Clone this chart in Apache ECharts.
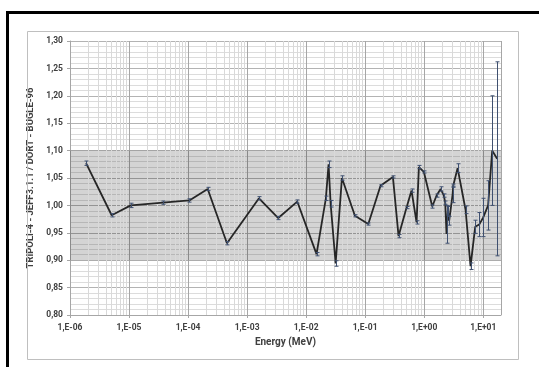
<!DOCTYPE html>
<html><head><meta charset="utf-8">
<script src="https://cdn.jsdelivr.net/npm/echarts@6/dist/echarts.min.js"></script>
<style>html,body{margin:0;padding:0;background:#fff}#c{width:539px;height:367px}</style>
</head><body><div id="c"></div>
<script>
// Energy (MeV) of each group point
const energy = [1.87e-6, 5.08e-6, 1.07e-5, 3.76e-5, 1.05e-4, 2.15e-4, 4.56e-4, 1.59e-3, 3.37e-3, 7.07e-3,
  1.50e-2, 2.16e-2, 2.40e-2, 2.60e-2, 3.16e-2, 4.04e-2, 6.7e-2, 1.13e-1, 1.82e-1, 2.95e-1,
  3.68e-1, 5.03e-1, 6.1e-1, 7.43e-1, 8.13e-1, 9.88e-1, 1.37, 1.62, 1.90, 2.15,
  2.27, 2.39, 2.52, 2.65, 3.03, 3.10, 3.68, 5.02, 6.1, 7.31,
  8.54, 10.0, 12.1, 14.2, 17.2];
// TRIPOLI-4 / DORT ratio
const ratio = [1.077, 0.982, 1.000, 1.005, 1.009, 1.030, 0.931, 1.013, 0.977, 1.007,
  0.911, 1.013, 1.075, 1.003, 0.894, 1.050, 0.981, 0.966, 1.036, 1.052,
  0.944, 0.996, 1.027, 0.969, 1.070, 1.061, 0.998, 1.018, 1.030, 1.018,
  1.005, 0.948, 0.990, 0.972, 1.020, 1.036, 1.068, 0.992, 0.889, 0.961,
  0.965, 0.978, 1.000, 1.100, 1.085];
// error bar half-widths (below / above)
const errMinus = [0.004, 0.003, 0.004, 0.003, 0.003, 0.003, 0.003, 0.003, 0.003, 0.003,
  0.003, 0.004, 0.006, 0.006, 0.005, 0.004, 0.002, 0.002, 0.002, 0.002,
  0.003, 0.002, 0.003, 0.003, 0.003, 0.002, 0.003, 0.003, 0.004, 0.003,
  0.003, 0.017, 0.008, 0.008, 0.015, 0.003, 0.008, 0.007, 0.006, 0.012,
  0.022, 0.035, 0.045, 0.100, 0.177];
const errPlus = [0.004, 0.003, 0.004, 0.003, 0.003, 0.003, 0.003, 0.003, 0.003, 0.003,
  0.003, 0.004, 0.006, 0.006, 0.005, 0.004, 0.002, 0.002, 0.002, 0.002,
  0.003, 0.002, 0.003, 0.003, 0.003, 0.002, 0.003, 0.003, 0.004, 0.003,
  0.003, 0.052, 0.008, 0.008, 0.015, 0.003, 0.008, 0.007, 0.006, 0.012,
  0.022, 0.035, 0.045, 0.100, 0.177];
const bandLow = 0.90, bandHigh = 1.10;
const xMin = 1e-6, xMax = 20;
const yMin = 0.80, yMax = 1.30, yStep = 0.05;

// minor vertical grid values (2..9 x 10^k)
const minorX = [];
for (let k = -6; k <= 1; k++) for (let m = 2; m <= 9; m++) { const v = m * Math.pow(10, k); if (v < xMax) minorX.push(v); }

const FONT = 'Roboto, "Liberation Sans", sans-serif';
const chart = echarts.init(document.getElementById('c'), null, {renderer: 'canvas'});
chart.setOption({
  animation: false,
  backgroundColor: '#fff',
  graphic: [
    {type: 'rect', z: 100, shape: {x: 7.5, y: 12.5, width: 620, height: 420}, style: {fill: 'none', stroke: '#000', lineWidth: 3}},
    {type: 'rect', z: 100, shape: {x: 27.5, y: 31.5, width: 491, height: 328}, style: {fill: 'none', stroke: '#bfbfbf', lineWidth: 1}}
  ],
  grid: {left: 70, right: 38, top: 41, bottom: 52, containLabel: false},
  xAxis: {
    type: 'log', logBase: 10, min: xMin, max: xMax,
    name: 'Energy (MeV)', nameLocation: 'middle', nameGap: 22,
    nameTextStyle: {fontFamily: FONT, fontWeight: 'bold', fontSize: 10, color: '#404040'},
    axisLine: {show: true, lineStyle: {color: '#a6a6a6', width: 1}},
    axisTick: {show: true, length: 3, lineStyle: {color: '#a6a6a6'}},
    axisLabel: {
      fontFamily: FONT, fontWeight: 'bold', fontSize: 8.5, color: '#404040', margin: 8, showMaxLabel: false,
      formatter: function (v) {
        const e = Math.round(Math.log10(v));
        const s = e < 0 ? '-' : '+';
        const a = Math.abs(e);
        return '1,E' + s + (a < 10 ? '0' : '') + a;
      }
    },
    splitLine: {show: true, lineStyle: {color: '#a6a6a6', width: 1}},
    minorTick: {show: false}, minorSplitLine: {show: false}
  },
  yAxis: {
    type: 'value', min: yMin, max: yMax, interval: yStep,
    name: 'TRIPOLI-4 - JEFF3.1.1 / DORT - BUGLE-96', nameLocation: 'middle', nameGap: 31,
    nameTextStyle: {fontFamily: FONT, fontWeight: 'bold', fontSize: 9.5, color: '#404040'},
    axisLine: {show: true, lineStyle: {color: '#a6a6a6', width: 1}},
    axisTick: {show: true, length: 3, lineStyle: {color: '#a6a6a6'}},
    axisLabel: {fontFamily: FONT, fontWeight: 'bold', fontSize: 8.5, color: '#404040', margin: 7,
      formatter: v => v.toFixed(2).replace('.', ',')},
    splitLine: {show: true, lineStyle: {color: '#b3b3b3', width: 1}},
    minorTick: {show: false, splitNumber: 5},
    minorSplitLine: {show: true, lineStyle: {color: '#dcdcdc', width: 1}}
  },
  series: [
    {
      type: 'custom', z: 1, silent: true,
      data: minorX.map(v => [v, 1]),
      encode: {x: 0, y: 1},
      renderItem: function (params, api) {
        const x = Math.round(api.coord([api.value(0), 1])[0]) + 0.5;
        const cs = params.coordSys;
        return {type: 'line', shape: {x1: x, y1: cs.y, x2: x, y2: cs.y + cs.height},
          style: {stroke: '#d9d9d9', lineWidth: 1}};
      },
      markArea: {silent: true, itemStyle: {color: 'rgba(0,0,0,0.17)'},
        data: [[{yAxis: bandLow}, {yAxis: bandHigh}]]}
    },
    {
      type: 'line', z: 3, symbol: 'none', silent: true,
      data: energy.map((e, i) => [e, ratio[i]]),
      lineStyle: {color: '#262626', width: 1.8}
    },
    {
      type: 'custom', z: 4, silent: true,
      data: energy.map((e, i) => [e, ratio[i] - errMinus[i], ratio[i] + errPlus[i]]),
      encode: {x: 0, y: [1, 2]},
      renderItem: function (params, api) {
        const lo = api.coord([api.value(0), api.value(1)]);
        const hi = api.coord([api.value(0), api.value(2)]);
        const x = Math.round(lo[0]) + 0.5;
        const st = {stroke: '#3f5070', lineWidth: 1};
        return {type: 'group', children: [
          {type: 'line', shape: {x1: x, y1: lo[1], x2: x, y2: hi[1]}, style: st},
          {type: 'line', shape: {x1: x - 2, y1: lo[1], x2: x + 2, y2: lo[1]}, style: st},
          {type: 'line', shape: {x1: x - 2, y1: hi[1], x2: x + 2, y2: hi[1]}, style: st}
        ]};
      }
    }
  ]
});
</script></body></html>
